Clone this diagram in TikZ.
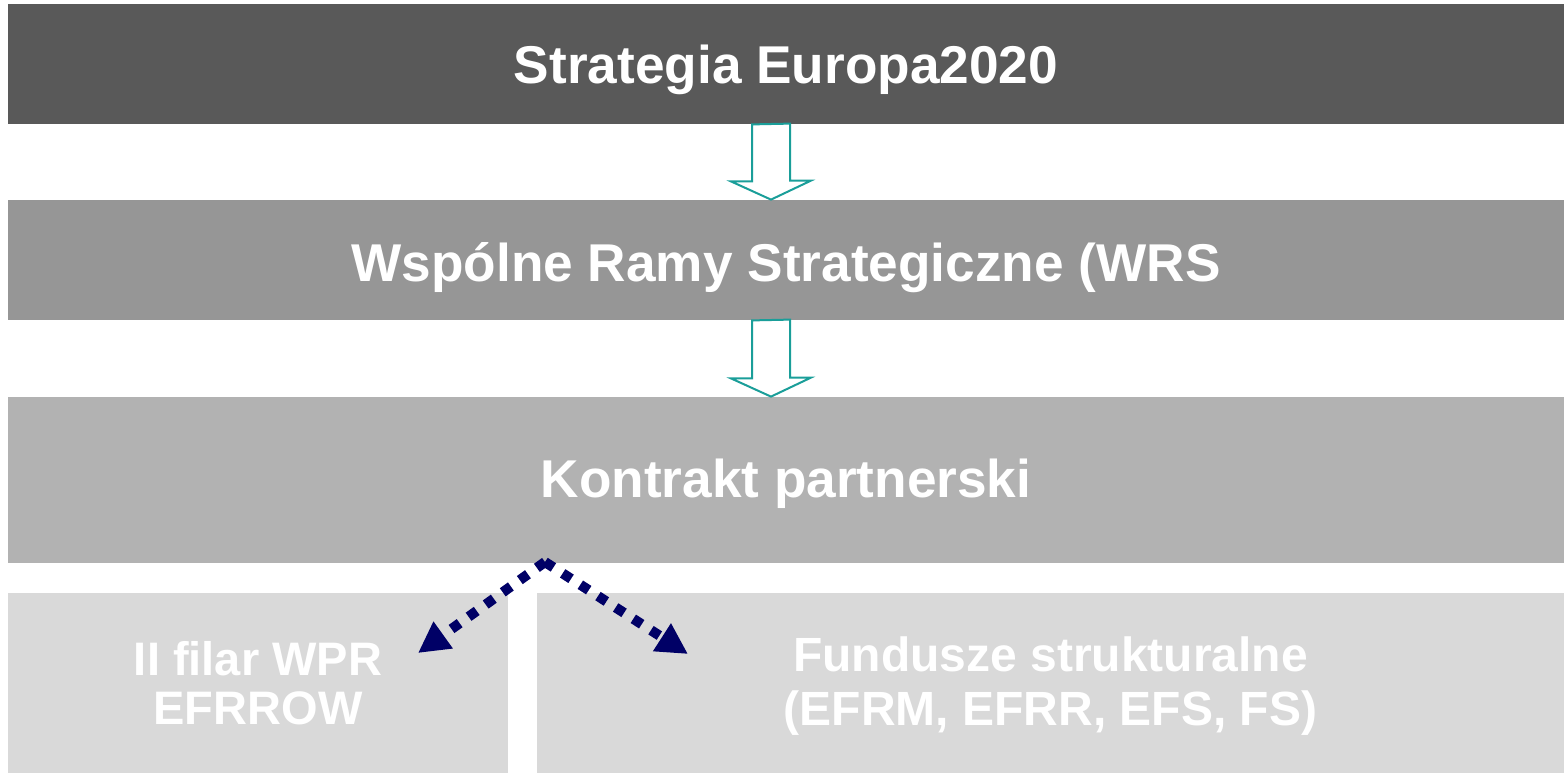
\documentclass[tikz,border=0pt]{standalone}
\usepackage{fontspec}
\setmainfont{Liberation Sans}
\usetikzlibrary{arrows.meta}

\definecolor{darkbar}{HTML}{595959}
\definecolor{midbar}{HTML}{969696}
\definecolor{lightbar}{HTML}{B2B2B2}
\definecolor{palebar}{HTML}{D9D9D9}
\definecolor{tealline}{HTML}{1A9E99}
\definecolor{navyline}{HTML}{000066}

\newcommand{\lowertext}[2]{\raisebox{-#1}[\height][\depth]{#2}}

\begin{document}
\begin{tikzpicture}[x=0.5pt, y=-0.5pt,
        bar/.style={inner sep=0pt, text=white, font=\bfseries\fontsize{26.6}{30}\selectfont},
        hollowarrow/.style={draw=tealline, line width=1pt, fill=white, line join=miter},
        dotarrow/.style={draw=navyline, line width=5pt, dash pattern=on 5pt off 5.5pt,
            -{Triangle[length=15.5pt, width=15.5pt]}}]
     \useasboundingbox (0,0) rectangle (1564,773);
     % levels
     \node[bar, fill=darkbar, minimum width=778pt, minimum height=60pt] (europa) at (786,64) {\lowertext{3pt}{Strategia Europa2020}};
     \node[bar, fill=midbar, minimum width=778pt, minimum height=60pt] (wrs) at (786,260) {\lowertext{4pt}{Wspólne Ramy Strategiczne (WRS}};
     \node[bar, fill=lightbar, minimum width=778pt, minimum height=83pt] (kontrakt) at (786,480) {\lowertext{2pt}{Kontrakt partnerski}};
     \node[bar, fill=palebar, minimum width=250pt, minimum height=90pt, align=center,
        font=\bfseries\fontsize{23.5}{24.5}\selectfont] (filar) at (258,683) {II filar WPR\\EFRROW};
     \node[bar, fill=palebar, minimum width=513.5pt, minimum height=90pt,
        font=\bfseries\fontsize{24}{27}\selectfont] (fundusze) at (1050.5,683) {\lowertext{2.5pt}{\begin{tabular}{@{}c@{}}Fundusze strukturalne\\(EFRM, EFRR, EFS, FS)\end{tabular}}};
     % hollow arrows
     \draw[hollowarrow] ([xshift=-17pt]europa.south) -- ++(0,57) -- ++(-21,0)
        -- ([xshift=-7.5pt]wrs.north) -- ++(40,-19) -- ++(-21,0) -- ++(0,-57) -- cycle;
     \draw[hollowarrow] ([xshift=-17pt]wrs.south) -- ++(0,58) -- ++(-21,0)
        -- ([xshift=-7.5pt]kontrakt.north) -- ++(40,-19) -- ++(-21,0) -- ++(0,-58) -- cycle;
     % dotted arrows
     \coordinate (split) at (545,562);
     \draw[dotarrow] (split) -- (418,653);
     \draw[dotarrow] (split) -- (688,654);
\end{tikzpicture}
\end{document}
